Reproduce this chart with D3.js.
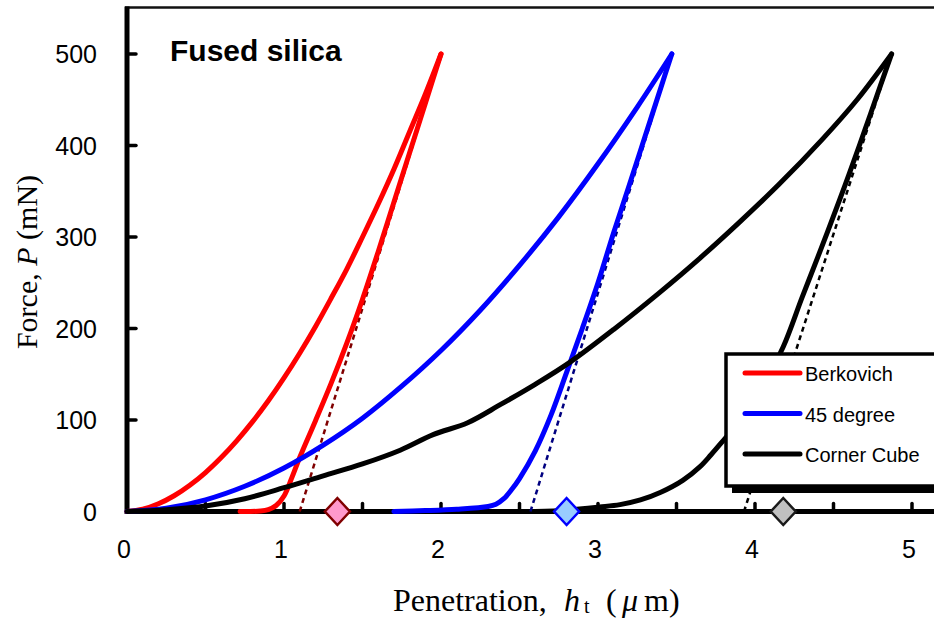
<!DOCTYPE html>
<html lang="en">
  <head>
    <meta charset="UTF-8" />
    <script src="https://d3js.org/d3.v7.min.js"></script>
    <title>Fused silica</title>
    <style>
      body { margin: 0; background: #fff; }
      svg { display: block; }
    </style>
  </head>
  <body>
    <svg width="934" height="621"></svg>
    <script>
      // Berkovich
      const berkLoadH = [0, 0.1, 0.2, 0.3, 0.4, 0.5, 0.6, 0.7, 0.8, 0.9, 1.0, 1.1, 1.2, 1.3, 1.4, 1.5, 1.6, 1.7, 1.8, 1.9, 2.0];
      const berkLoadP = [0, 2.4, 8.4, 17.2, 28.7, 42.6, 59, 77.5, 98.2, 121, 146, 173, 202, 233, 265, 300, 336, 374, 415, 456, 500];
      const berkUnloadH = [2.0, 1.9, 1.8, 1.7, 1.6, 1.5, 1.4, 1.3, 1.2, 1.1, 1.05, 1.0, 0.95, 0.9, 0.85, 0.72];
      const berkUnloadP = [500, 446, 392, 338, 284, 232, 184, 140, 99, 59, 37, 17, 6.5, 2, 0.5, 0];
      const berkTangentH = [1.1, 2.0];
      const berkTangentP = [0, 500];

      // 45 degree
      const degLoadH = [0, 0.25, 0.5, 0.75, 1.0, 1.25, 1.5, 1.75, 2.0, 2.25, 2.5, 2.75, 3.0, 3.25, 3.47];
      const degLoadP = [0, 3.5, 12.8, 27.6, 47.6, 72.6, 102, 137, 176, 220, 269, 322, 380, 442, 500];
      const degUnloadH = [3.47, 3.4, 3.3, 3.2, 3.1, 3.0, 2.9, 2.8, 2.7, 2.6, 2.5, 2.45, 2.4, 2.35, 2.3, 2.1, 1.9, 1.7];
      const degUnloadP = [500, 463, 410, 357, 305, 250, 200, 152, 105, 66, 36, 24, 14, 8, 5.5, 2.5, 1, 0];
      const degTangentH = [2.57, 3.47];
      const degTangentP = [0, 500];

      // Corner Cube
      const cubeLoadH = [0, 0.25, 0.5, 0.75, 1.0, 1.25, 1.5, 1.74, 1.95, 2.17, 2.38, 2.6, 2.82, 3.1, 3.39, 3.65, 3.9, 4.15, 4.43, 4.65, 4.87];
      const cubeLoadP = [0, 2, 6, 14, 26, 39, 52, 67, 84, 97, 117, 139, 163, 199, 239, 277, 316, 357, 407, 450, 500];
      const cubeUnloadH = [4.87, 4.8, 4.7, 4.6, 4.54, 4.4, 4.3, 4.18, 4.05, 3.93, 3.81, 3.72, 3.65, 3.54, 3.4, 3.27, 3.14, 3.01, 2.8, 2.6];
      const cubeUnloadP = [500, 466, 417, 369, 341, 278, 234, 180, 136, 104, 80, 62, 49, 34, 21, 12.6, 7.5, 4.9, 1.5, 0];
      const cubeTangentH = [3.93, 4.87];
      const cubeTangentP = [0, 500];

      // contact depth markers
      const markerH = [1.34, 2.8, 4.18];

      const seriesNames = ["Berkovich", "45 degree", "Corner Cube"];
      const seriesColors = ["#ff0000", "#0000ff", "#000000"];
      const tangentColors = ["#800000", "#000080", "#000000"];
      const markerFills = ["#ff99cc", "#99ccff", "#c0c0c0"];
      const markerStrokes = ["#800000", "#0000ff", "#1a1a1a"];

      const xTicks = [0, 1, 2, 3, 4, 5];
      const xMinorTicks = [0.5, 1, 1.5, 2, 2.5, 3, 3.5, 4, 4.5, 5];
      const yTicks = [0, 100, 200, 300, 400, 500];

      const zip = (hs, ps) => hs.map((h, i) => [h, ps[i]]);

      const svg = d3.select("svg");
      const x = d3.scaleLinear().domain([0, 5]).range([127, 912]);
      const y = d3.scaleLinear().domain([0, 500]).range([511.5, 54]);

      const line = d3.line()
        .x((d) => x(d[0]))
        .y((d) => y(d[1]))
        .curve(d3.curveCatmullRom.alpha(0.5));

      // top border
      svg.append("line")
        .attr("x1", 125).attr("x2", 934)
        .attr("y1", 7.5).attr("y2", 7.5)
        .attr("stroke", "#111").attr("stroke-width", 2.5);

      // x axis ticks every 0.5 (pointing up)
      svg.append("g")
        .selectAll("line")
        .data(xMinorTicks)
        .join("line")
        .attr("x1", (d) => x(d)).attr("x2", (d) => x(d))
        .attr("y1", y(0)).attr("y2", y(0) - 8)
        .attr("stroke", "#000").attr("stroke-width", 3.5)
        .attr("stroke-linecap", "round");

      // y axis ticks (pointing right)
      svg.append("g")
        .selectAll("line")
        .data(yTicks.filter((d) => d > 0))
        .join("line")
        .attr("x1", x(0)).attr("x2", x(0) + 9)
        .attr("y1", (d) => y(d)).attr("y2", (d) => y(d))
        .attr("stroke", "#000").attr("stroke-width", 3.5)
        .attr("stroke-linecap", "round");

      svg.append("line")
        .attr("x1", x(0) - 2).attr("x2", 934)
        .attr("y1", y(0)).attr("y2", y(0))
        .attr("stroke", "#000").attr("stroke-width", 5);

      svg.append("line")
        .attr("x1", x(0)).attr("x2", x(0))
        .attr("y1", 6.5).attr("y2", y(0) + 2.5)
        .attr("stroke", "#000").attr("stroke-width", 5);

      // tick labels
      svg.append("g")
        .selectAll("text")
        .data(yTicks)
        .join("text")
        .attr("x", 97)
        .attr("y", (d) => y(d) + 9)
        .attr("text-anchor", "end")
        .style("font-family", "Arial, 'Liberation Sans', sans-serif")
        .style("font-size", "25px")
        .text((d) => d);

      svg.append("g")
        .selectAll("text")
        .data(xTicks)
        .join("text")
        .attr("x", (d) => x(d) - 3)
        .attr("y", 558)
        .attr("text-anchor", "middle")
        .style("font-family", "Arial, 'Liberation Sans', sans-serif")
        .style("font-size", "25px")
        .text((d) => d);

      // curves: loading, unloading, tangent at unloading start
      const curves = [
        [zip(berkLoadH, berkLoadP), zip(berkUnloadH, berkUnloadP), zip(berkTangentH, berkTangentP)],
        [zip(degLoadH, degLoadP), zip(degUnloadH, degUnloadP), zip(degTangentH, degTangentP)],
        [zip(cubeLoadH, cubeLoadP), zip(cubeUnloadH, cubeUnloadP), zip(cubeTangentH, cubeTangentP)],
      ];

      const curveG = svg.append("g");
      curves.forEach((c, i) => {
        curveG.append("path")
          .attr("d", line(c[2]))
          .attr("fill", "none")
          .attr("stroke", tangentColors[i])
          .attr("stroke-width", 2.5)
          .attr("stroke-dasharray", "5,4");
        [c[0], c[1]].forEach((pts) => {
          curveG.append("path")
            .attr("d", line(pts))
            .attr("fill", "none")
            .attr("stroke", seriesColors[i])
            .attr("stroke-width", 5)
            .attr("stroke-linejoin", "round")
            .attr("stroke-linecap", "round");
        });
      });

      // diamonds at contact depth
      svg.append("g")
        .selectAll("path")
        .data(markerH)
        .join("path")
        .attr("transform", (d) => `translate(${x(d)},${y(0)})`)
        .attr("d", "M0,-13.5L12.5,0L0,13.5L-12.5,0Z")
        .attr("fill", (d, i) => markerFills[i])
        .attr("stroke", (d, i) => markerStrokes[i])
        .attr("stroke-width", 2.5);

      // legend
      const leg = svg.append("g").attr("transform", "translate(726,354)");
      leg.append("rect")
        .attr("x", 6).attr("y", 6)
        .attr("width", 240).attr("height", 133)
        .attr("fill", "#000");
      leg.append("rect")
        .attr("width", 240).attr("height", 132)
        .attr("fill", "#fff")
        .attr("stroke", "#000").attr("stroke-width", 3.5);
      const legItem = leg.selectAll("g.item")
        .data(seriesNames)
        .join("g")
        .attr("class", "item")
        .attr("transform", (d, i) => `translate(0,${19 + i * 40.5})`);
      legItem.append("line")
        .attr("x1", 19).attr("x2", 74)
        .attr("stroke", (d, i) => seriesColors[i])
        .attr("stroke-width", 5)
        .attr("stroke-linecap", "round");
      legItem.append("text")
        .attr("x", 79).attr("y", 8)
        .style("font-family", "Arial, 'Liberation Sans', sans-serif")
        .style("font-size", "20px")
        .text((d) => d);

      // panel title
      svg.append("text")
        .attr("x", 170).attr("y", 61)
        .style("font-family", "Arial, 'Liberation Sans', sans-serif")
        .style("font-weight", "bold")
        .style("font-size", "30px")
        .text("Fused silica");

      // axis titles
      const serif = "'Liberation Serif', 'Times New Roman', serif";
      const xt = svg.append("text")
        .attr("y", 611)
        .style("font-family", serif)
        .style("font-size", "32px");
      xt.append("tspan").attr("x", 393).text("Penetration,");
      xt.append("tspan").attr("x", 564).style("font-style", "italic").text("h");
      xt.append("tspan").attr("x", 584).attr("dy", 2).style("font-size", "20px").text("t");
      xt.append("tspan").attr("x", 606).attr("dy", -2).text("(");
      xt.append("tspan").attr("x", 622).style("font-style", "italic").text("μ");
      xt.append("tspan").attr("x", 644).text("m)");

      const yt = svg.append("text")
        .attr("transform", "translate(37,262) rotate(-90)")
        .attr("text-anchor", "middle")
        .style("font-family", serif)
        .style("font-size", "30px");
      yt.append("tspan").text("Force, ");
      yt.append("tspan").style("font-style", "italic").text("P");
      yt.append("tspan").text(" (mN)");
    </script>
  </body>
</html>
